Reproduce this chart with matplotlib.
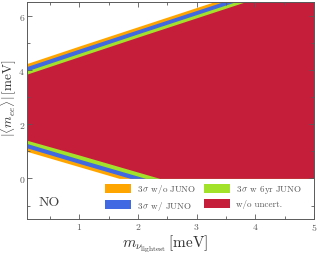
import numpy as np
import matplotlib
matplotlib.use("Agg")
import matplotlib.pyplot as plt
from matplotlib.ticker import MultipleLocator

plt.rcParams['font.family'] = 'cmr10'
plt.rcParams['mathtext.fontset'] = 'cm'
plt.rcParams['axes.formatter.use_mathtext'] = True
plt.rcParams['axes.unicode_minus'] = False

# lightest neutrino mass [meV]
m_light = [0.1, 1.0, 2.0, 3.0, 4.0, 5.0]

# upper edges of |<m_ee>| [meV]
up_orange = [4.23, 4.88, 5.59, 6.30, 7.01, 7.72]
up_blue = [4.12, 4.77, 5.48, 6.19, 6.90, 7.61]
up_green = [3.96, 4.61, 5.33, 6.04, 6.75, 7.46]
up_red = [3.84, 4.49, 5.21, 5.92, 6.63, 7.34]

# lower edges (go to zero and stay there)
lo_x_orange = [0.1, 1.0, 1.68, 5.0]
lo_orange = [1.00, 0.43, 0.0, 0.0]
lo_x_blue = [0.1, 1.0, 1.87, 5.0]
lo_blue = [1.13, 0.55, 0.0, 0.0]
lo_x_green = [0.1, 1.0, 2.13, 5.0]
lo_green = [1.29, 0.71, 0.0, 0.0]
lo_x_red = [0.1, 1.0, 2.37, 5.0]
lo_red = [1.41, 0.86, 0.0, 0.0]

labels = [r'$3\,\sigma$ w/o JUNO', r'$3\,\sigma$ w/ JUNO',
          r'$3\,\sigma$ w 6yr JUNO', 'w/o uncert.']
colors = ['#FFA500', '#4169E1', '#A2E22A', '#C41E3A']

bands = [(lo_x_orange, lo_orange, up_orange),
         (lo_x_blue, lo_blue, up_blue),
         (lo_x_green, lo_green, up_green),
         (lo_x_red, lo_red, up_red)]

fig = plt.figure(figsize=(3.19, 2.55), dpi=100)
ax = fig.add_axes([0.085, 0.137, 0.899, 0.851])

xs = np.linspace(0.1, 5.0, 400)
for (lx, lo, up), c, lab in zip(bands, colors, labels):
    upper = np.interp(xs, m_light, up)
    lower = np.interp(xs, lx, lo)
    ax.fill_between(xs, lower, upper, color=c, lw=0, label=lab)

ax.set_xlim(0.11, 5)
ax.set_ylim(-1.5, 6.5)
ax.xaxis.set_major_locator(MultipleLocator(1))
ax.xaxis.set_minor_locator(MultipleLocator(0.5))
ax.yaxis.set_major_locator(MultipleLocator(2))
ax.yaxis.set_minor_locator(MultipleLocator(1))
ax.tick_params(which='both', direction='in', top=True, right=True,
               colors='0.35', labelsize=7, width=0.6, pad=1.5)
ax.tick_params(which='major', length=3.5)
ax.tick_params(which='minor', length=2)
for s in ax.spines.values():
    s.set_color('0.35')
    s.set_linewidth(0.7)

ax.set_xlabel(r'$m_{\nu_{\rm lightest}}\,[\mathrm{meV}]$', fontsize=11,
              color='0.2')
ax.xaxis.set_label_coords(0.48, -0.058)
ax.set_ylabel(r'$|\langle m_{ee}\rangle|\,[\mathrm{meV}]$', fontsize=9.5,
              color='0.2')
ax.yaxis.set_label_coords(-0.03, 0.56)

ax.text(0.04, 0.08, 'NO', transform=ax.transAxes, fontsize=10,
        color='0.25', va='center')

ax.legend(loc='lower right', bbox_to_anchor=(0.975, 0.012), ncol=2,
          frameon=False, fontsize=6.5, handlelength=2.9, handleheight=1.15,
          handletextpad=0.7, columnspacing=0.8, labelspacing=0.4,
          borderpad=0, labelcolor='0.35')

fig.savefig('out.png', dpi=100)
